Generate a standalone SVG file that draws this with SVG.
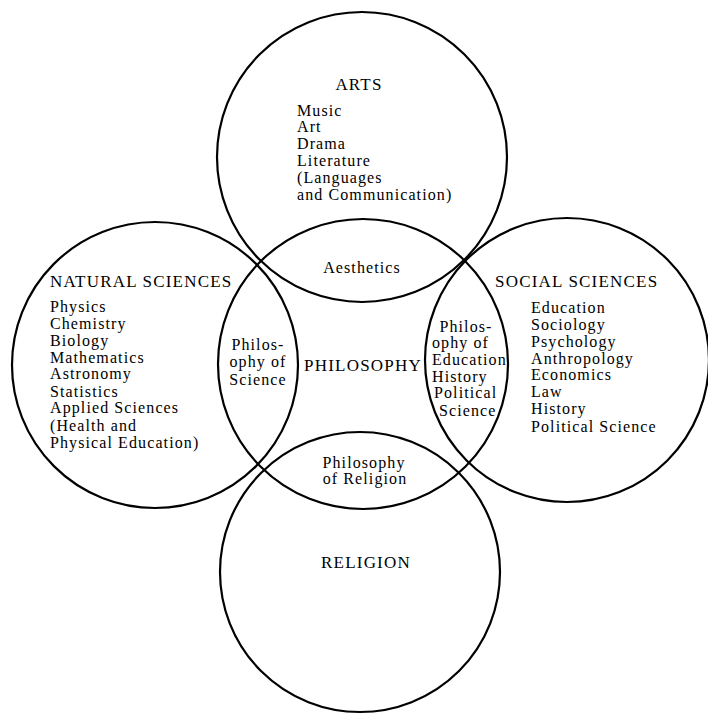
<svg xmlns="http://www.w3.org/2000/svg" width="708" height="714" viewBox="0 0 708 714">
<style>
  .c { fill: none; stroke: #000; stroke-width: 2.2; }
  text { font-family: "Liberation Serif", "Times New Roman", serif; fill: #000; font-size: 16px; letter-spacing: 1.1px; }
  .t { font-size: 17px; letter-spacing: 1.2px; }
  .m { text-anchor: middle; }
</style>
<rect width="708" height="714" fill="#fff"/>
<g id="arts">
  <circle class="c" cx="362" cy="157" r="145"/>
  <text class="t m" x="359" y="90">ARTS</text>
  <text x="297" y="116">Music</text>
  <text x="297" y="132">Art</text>
  <text x="297" y="149">Drama</text>
  <text x="297" y="166">Literature</text>
  <text x="297" y="183">(Languages</text>
  <text x="297" y="200">and Communication)</text>
</g>
<g id="natural-sciences">
  <circle class="c" cx="155" cy="365" r="143"/>
  <text class="t" x="50" y="287">NATURAL SCIENCES</text>
  <text x="50" y="312">Physics</text>
  <text x="50" y="329">Chemistry</text>
  <text x="50" y="346">Biology</text>
  <text x="50" y="363">Mathematics</text>
  <text x="50" y="379">Astronomy</text>
  <text x="50" y="397">Statistics</text>
  <text x="50" y="413">Applied Sciences</text>
  <text x="50" y="431">(Health and</text>
  <text x="50" y="448">Physical Education)</text>
</g>
<g id="social-sciences">
  <circle class="c" cx="567" cy="360" r="142"/>
  <text class="t" x="495" y="287">SOCIAL SCIENCES</text>
  <text x="531" y="313">Education</text>
  <text x="531" y="330">Sociology</text>
  <text x="531" y="347">Psychology</text>
  <text x="531" y="364">Anthropology</text>
  <text x="531" y="380">Economics</text>
  <text x="531" y="397">Law</text>
  <text x="531" y="414">History</text>
  <text x="531" y="432">Political Science</text>
</g>
<g id="religion">
  <circle class="c" cx="360" cy="572" r="140"/>
  <text class="t m" x="366" y="568">RELIGION</text>
</g>
<g id="philosophy">
  <circle class="c" cx="363" cy="364" r="145"/>
  <text class="t m" x="363" y="371">PHILOSOPHY</text>
</g>
<g id="aesthetics">
  <text class="m" x="362" y="273">Aesthetics</text>
</g>
<g id="philosophy-of-science">
  <text class="m" x="258" y="350">Philos-</text>
  <text class="m" x="258" y="367">ophy of</text>
  <text class="m" x="258" y="385">Science</text>
</g>
<g id="philosophy-of-education">
  <text class="m" x="466" y="332">Philos-</text>
  <text x="432" y="348">ophy of</text>
  <text x="432" y="365">Education</text>
  <text x="432" y="382">History</text>
  <text x="434" y="398">Political</text>
  <text x="439" y="416">Science</text>
</g>
<g id="philosophy-of-religion">
  <text class="m" x="364" y="468">Philosophy</text>
  <text class="m" x="365" y="484">of Religion</text>
</g>
<g id="connectors"></g>
</svg>
